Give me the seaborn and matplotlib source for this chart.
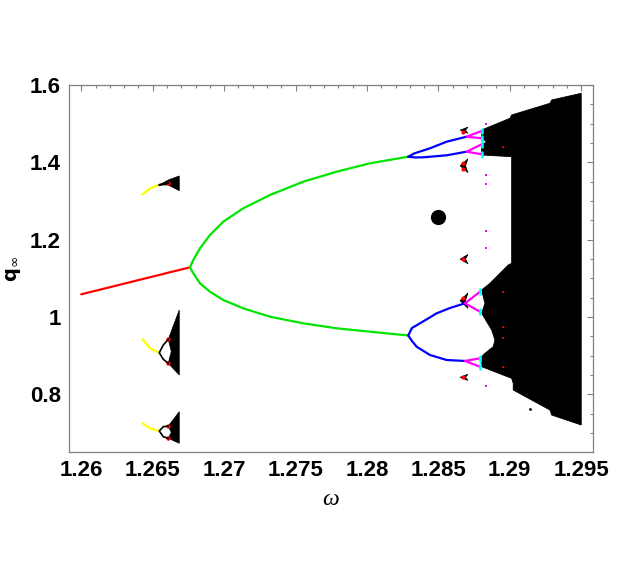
import pandas as pd
import matplotlib
matplotlib.use("Agg")
import matplotlib.pyplot as plt
from matplotlib.ticker import FixedLocator, MultipleLocator
import seaborn as sns

# --- data (omega, q_inf) ---
red_w = [1.2600, 1.26761]
red_q = [1.0585, 1.1283]

green_up_w = [1.26761, 1.26784, 1.26831, 1.26901, 1.26994, 1.27134, 1.27321,
              1.27554, 1.27788, 1.28021, 1.28289]
green_up_q = [1.1283, 1.1472, 1.1775, 1.2119, 1.2463, 1.2810, 1.3154,
              1.3498, 1.3757, 1.3974, 1.4145]
green_lo_w = [1.26761, 1.26784, 1.26831, 1.26901, 1.26994, 1.27134, 1.27321,
              1.27554, 1.27788, 1.28021, 1.28289]
green_lo_q = [1.1283, 1.1128, 1.0869, 1.0652, 1.0437, 1.0222, 1.0005,
              0.9834, 0.9705, 0.9617, 0.9520]

# period-4 branches (blue)
blue_a_w = [1.28289, 1.28330, 1.28441, 1.28558, 1.28698]
blue_a_q = [1.4145, 1.4228, 1.4362, 1.4533, 1.4663]
blue_b_w = [1.28289, 1.28336, 1.28394, 1.28558, 1.28698]
blue_b_q = [1.4145, 1.4125, 1.4129, 1.4181, 1.4275]
blue_c_w = [1.28289, 1.28315, 1.28371, 1.28488, 1.28581, 1.28686]
blue_c_q = [0.9520, 0.9713, 0.9834, 1.0093, 1.0230, 1.0352]
blue_d_w = [1.28289, 1.28315, 1.28348, 1.28441, 1.28558, 1.28686]
blue_d_q = [0.9520, 0.9376, 0.9229, 0.9014, 0.8885, 0.8860]

# period-8 forks (magenta): start omega, fork end omega, start q, two end q
fork_w0 = [1.28698, 1.28698, 1.28686, 1.28686]
fork_w1 = [1.28803, 1.28803, 1.28791, 1.28791]
fork_q0 = [1.4663, 1.4275, 1.0352, 0.8860]
fork_qa = [1.4810, 1.4466, 1.0650, 0.8929]
fork_qb = [1.4621, 1.4207, 1.0135, 0.8712]

# main chaotic band outline
chaos_w = [1.28803, 1.29001, 1.29013, 1.29281, 1.29293, 1.29500, 1.29500, 1.29293,
           1.29281, 1.29024, 1.29024, 1.29013, 1.28803, 1.28803, 1.28826, 1.28884,
           1.28896, 1.28873, 1.28838, 1.28803, 1.28826, 1.28814, 1.28803, 1.28861,
           1.28931, 1.28989, 1.29013, 1.29013, 1.28803, 1.28803, 1.28838, 1.28803]
chaos_q = [1.4836, 1.5138, 1.5224, 1.5527, 1.5612, 1.5785, 0.7204, 0.7462,
           0.7591, 0.8109, 0.8282, 0.8411, 0.8712, 0.8970, 0.9058, 0.9229,
           0.9402, 0.9661, 0.9876, 1.0093, 1.0352, 1.0523, 1.0696, 1.0869,
           1.1128, 1.1343, 1.1387, 1.4145, 1.4189, 1.4450, 1.4530, 1.4620]

# small windows near omega=1.2866 (arrow shaped clusters)
win_c = [1.4830, 1.3910, 1.1495, 1.0420, 0.8437]
win_h = [0.0080, 0.0180, 0.0120, 0.0200, 0.0080]
win_red_q = [1.4776, 1.3990, 1.3827, 1.1498, 1.0480, 0.8437]

magenta_dot_q = [1.498, 1.367, 1.343, 1.222, 1.177, 0.8212]
red_dot_q = [1.440, 1.065, 0.975, 0.945, 0.871]

# left windows near omega=1.265
yel_w = [1.26430, 1.26481, 1.26546]
yel_q1 = [1.3172, 1.3327, 1.3413]
yel_q2 = [0.9420, 0.9188, 0.9074]
yel_q3 = [0.7247, 0.7118, 0.7048]
p2_w = [1.26609, 1.26574, 1.26546, 1.26574, 1.26609]
p2_q2 = [0.9420, 0.9273, 0.9074, 0.8903, 0.8800]
p2_q3 = [0.7177, 0.7159, 0.7048, 0.6900, 0.6859]
fan1_w = [1.26546, 1.26609, 1.26686, 1.26686, 1.26609]
fan1_q = [1.3413, 1.3542, 1.3646, 1.3265, 1.3413]
fan_w = [1.26609, 1.26686, 1.26686, 1.26609, 1.26630]
fan2_q = [0.9420, 1.0179, 0.8497, 0.8800, 0.9110]
fan3_q = [0.7177, 0.7547, 0.6730, 0.6859, 0.7010]

xticks = [1.26, 1.265, 1.27, 1.275, 1.28, 1.285, 1.29, 1.295]
xlabels = ["1.26", "1.265", "1.27", "1.275", "1.28", "1.285", "1.29", "1.295"]
yticks = [0.8, 1.0, 1.2, 1.4, 1.6]
ylabels = ["0.8", "1", "1.2", "1.4", "1.6"]

sns.set_style("white")
plt.rcParams["font.family"] = ["Liberation Sans", "DejaVu Sans"]

fig = plt.figure(figsize=(6.23, 5.61), dpi=100)
ax = fig.add_axes([0.1112, 0.1943, 0.8401, 0.6542])


def curve(w, q, color, lw=1.6):
    d = pd.DataFrame({"w": w, "q": q})
    sns.lineplot(data=d, x="w", y="q", color=color, lw=lw, sort=False,
                 estimator=None, ax=ax)


# chaotic regions (filled black)
ax.fill(chaos_w, chaos_q, color="black", lw=0.6, ec="black")
ax.fill(fan1_w, fan1_q, color="black", lw=0.5, ec="black")
ax.fill(fan_w, fan2_q, color="black", lw=0.5, ec="black")
ax.fill(fan_w, fan3_q, color="black", lw=0.5, ec="black")

# periodic branches
curve(red_w, red_q, "#ff0000")
curve(green_up_w, green_up_q, "#00e600")
curve(green_lo_w, green_lo_q, "#00e600")
for w, q in [(blue_a_w, blue_a_q), (blue_b_w, blue_b_q),
             (blue_c_w, blue_c_q), (blue_d_w, blue_d_q)]:
    curve(w, q, "#0000ff")
for i in range(len(fork_q0)):
    curve([fork_w1[i], fork_w0[i], fork_w1[i]],
          [fork_qa[i], fork_q0[i], fork_qb[i]], "#ff00ff")
    for qe in (fork_qa[i], fork_qb[i]):
        curve([fork_w1[i], fork_w1[i]], [qe - 0.006, qe + 0.006], "#00ffff", lw=1.8)

# left periodic windows
curve(yel_w, yel_q1, "#ffff00")
curve(yel_w, yel_q2, "#ffff00")
curve(yel_w, yel_q3, "#ffff00")
curve([1.26546, 1.26609], [1.3413, 1.3472], "black")
curve(p2_w, p2_q2, "black", lw=1.2)
curve(p2_w, p2_q3, "black", lw=1.2)
sns.scatterplot(x=[1.26609, 1.26609, 1.26609, 1.26609, 1.26609],
                y=[1.3472, 0.9420, 0.8800, 0.7177, 0.6859],
                color="#ff0000", s=10, lw=0, ax=ax)

# small windows near 1.2866
for c, h in zip(win_c, win_h):
    ax.fill([1.28652, 1.28707, 1.28690, 1.28707], [c, c + h, c, c - h],
            color="black", lw=0.5, ec="black")
sns.scatterplot(x=[1.28672] * len(win_red_q), y=win_red_q, color="#ff0000",
                s=9, lw=0, ax=ax)
sns.scatterplot(x=[1.28831] * len(magenta_dot_q), y=magenta_dot_q,
                color="#ff00ff", marker="s", s=2.5, lw=0, ax=ax)
sns.scatterplot(x=[1.28954] * len(red_dot_q), y=red_dot_q, color="#cc0000",
                marker="s", s=2, lw=0, ax=ax)
sns.scatterplot(x=[1.29141], y=[0.761], color="black", s=4, lw=0, ax=ax)

# big black dot
sns.scatterplot(x=[1.28497], y=[1.2585], color="black", s=120, lw=0, ax=ax)

ax.set_xlim(1.25916, 1.2958)
ax.set_ylim(0.6505, 1.6)
ax.xaxis.set_major_locator(FixedLocator(xticks))
ax.yaxis.set_major_locator(FixedLocator(yticks))
ax.set_xticklabels(xlabels, fontweight="bold", fontsize=16, color="black")
ax.set_yticklabels(ylabels, fontweight="bold", fontsize=16, color="black")
ax.xaxis.set_minor_locator(MultipleLocator(0.001))
ax.yaxis.set_minor_locator(MultipleLocator(0.05))
ax.tick_params(which="both", direction="in", top=True, right=True,
               color="#808080", width=0.8)
ax.tick_params(which="major", length=4)
ax.tick_params(which="minor", length=2.2)
ax.tick_params(axis="x", pad=6)
ax.tick_params(axis="y", pad=6)
for s in ax.spines.values():
    s.set_color("#808080")
    s.set_linewidth(0.9)

ax.set_xlabel("ω", fontsize=17, family="Liberation Serif", style="italic",
              color="black")
ax.set_ylabel(r"$\mathbf{q}_{\infty}$", fontsize=14, color="black")
ax.xaxis.set_label_coords(0.5, -0.1)
ax.yaxis.set_label_coords(-0.088, 0.5)

fig.savefig("out.png", dpi=100)
